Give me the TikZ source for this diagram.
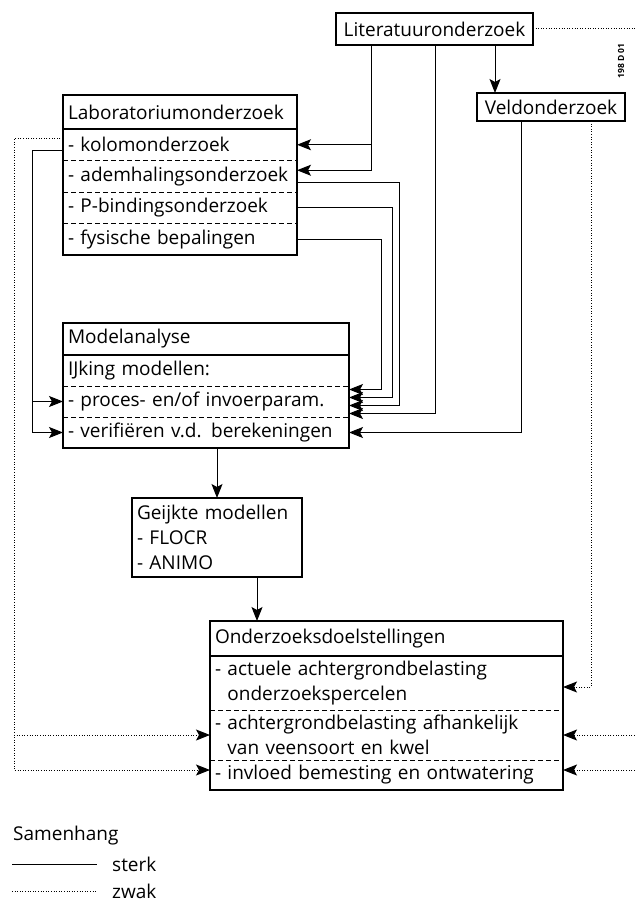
\documentclass[tikz,border=0pt]{standalone}
\usepackage{fontspec}
\setmainfont{Open Sans}
\usetikzlibrary{positioning,arrows.meta}

\begin{document}
\begin{tikzpicture}[x=1pt,y=-1pt,font=\fontsize{19}{25}\selectfont,
  >={Stealth[length=14pt,width=11pt,inset=3pt]},
  sterk/.style={line width=1pt},
  zwak/.style={line width=1pt,dash pattern=on 1pt off 1.6pt},
  sep/.style={line width=0.9pt,dash pattern=on 5pt off 3pt},
  rand/.style={line width=1.2pt},
  cell/.style={inner xsep=5pt,inner ysep=0pt,outer sep=0pt,align=left,anchor=north west},
  labcell/.style={cell,text width=224pt,minimum height=31.5pt},
  modcell/.style={cell,text width=276pt,minimum height=31pt},
  doelcell/.style={cell,text width=343pt}]
\useasboundingbox (0,0) rectangle (635,909);
% bronnen
\node[draw,rand,outer sep=0pt,minimum width=197pt,minimum height=32pt,anchor=north west] (lit) at (336,13) {Literatuuronderzoek};
\node[draw,rand,outer sep=0pt,minimum width=148pt,minimum height=28pt,anchor=north west] (veld) at (477,93) {Veldonderzoek};
\node[rotate=90,font=\fontsize{8.5}{10}\selectfont\bfseries] (code) at (621,61) {198 D 01};
% laboratoriumonderzoek
\node[labcell,minimum height=34pt] (lab) at (63,95) {Laboratoriumonderzoek};
\foreach \a/\b/\t in {lab/kolom/{- kolomonderzoek},kolom/adem/{- ademhalingsonderzoek},
  adem/pbind/{- P-bindingsonderzoek},pbind/fys/{- fysische bepalingen}}
  \node[labcell,below=0pt of \a] (\b) {\t};
\draw[rand] (lab.north west) rectangle (fys.south east);
\draw[rand] (lab.south west) -- (lab.south east);
\foreach \r in {kolom,adem,pbind}
  \draw[sep] (\r.south west) -- (\r.south east);
% modelanalyse
\node[modcell,minimum height=32pt] (model) at (63,323) {Modelanalyse};
\foreach \a/\b/\t in {model/ijking/{IJking modellen:},ijking/proces/{- proces- en/of invoerparam.},
  proces/verif/{- verifiëren v.d. berekeningen}}
  \node[modcell,below=0pt of \a] (\b) {\t};
\draw[rand] (model.north west) rectangle (verif.south east);
\draw[rand] (model.south west) -- (model.south east);
\foreach \r in {ijking,proces}
  \draw[sep] (\r.south west) -- (\r.south east);
% geijkte modellen
\node[draw,rand,cell,text width=160pt,minimum height=79pt] (geijkt) at (132,498) {Geijkte modellen\\- FLOCR\\- ANIMO};
% onderzoeksdoelstellingen
\node[doelcell,minimum height=35pt] (doel) at (210,621) {Onderzoeksdoelstellingen};
\node[doelcell,minimum height=54pt,below=0pt of doel] (doel1) {- actuele achtergrondbelasting\\\phantom{- }onderzoekspercelen};
\node[doelcell,minimum height=50pt,below=0pt of doel1] (doel2) {- achtergrondbelasting afhankelijk\\\phantom{- }van veensoort en kwel};
\node[doelcell,minimum height=30pt,below=0pt of doel2] (doel3) {- invloed bemesting en ontwatering};
\draw[rand] (doel.north west) rectangle (doel3.south east);
\draw[rand] (doel.south west) -- (doel.south east);
\foreach \r in {doel1,doel2}
  \draw[sep] (\r.south west) -- (\r.south east);
% kanalen
\coordinate (k1) at (371,0);
\coordinate (k2) at (381,0);
\coordinate (k3) at (392,0);
\coordinate (k4) at (399,0);
\coordinate (k5) at (435,0);
\coordinate (kv) at (495,0);
\coordinate (k6) at (521,0);
\coordinate (k7) at (591,0);
\coordinate (kr) at (640,0);
\coordinate (kl1) at (14,0);
\coordinate (kl2) at (32,0);
\coordinate (kg) at (257,0);
% aansluitpunten
\coordinate (pa1) at ([yshift=12pt]proces.east);
\coordinate (pa2) at ([yshift=4pt]proces.east);
\coordinate (pa3) at ([yshift=-4pt]proces.east);
\coordinate (pa4) at ([yshift=-12pt]proces.east);
\coordinate (ain) at ([yshift=6pt]adem.east);
\coordinate (aout) at ([yshift=-6pt]adem.east);
\coordinate (kz) at ([yshift=6pt]kolom.west);
\coordinate (ks) at ([yshift=-6pt]kolom.west);
\coordinate (d1) at ([yshift=-4pt]doel1.east);
\coordinate (d3r) at ([yshift=5pt]doel3.east);
\coordinate (d3l) at ([yshift=5pt]doel3.west);
% sterke samenhang
\draw[sterk,->] (lit.south -| k1) |- (ain);
\draw[sterk,->] (k1 |- kolom.east) -- (kolom.east);
\draw[sterk,->] (lit.south -| kv) -- (veld.north -| kv);
\draw[sterk,->] (fys.east) -| (k2 |- pa1) -- (pa1);
\draw[sterk,->] (pbind.east) -| (k3 |- pa2) -- (pa2);
\draw[sterk,->] (aout) -| (k4 |- pa3) -- (pa3);
\draw[sterk,->] (lit.south -| k5) |- (pa4);
\draw[sterk,->] (veld.south -| k6) |- (verif.east);
\draw[sterk,->] (ks) -| (kl2 |- verif.west) -- (verif.west);
\draw[sterk,->] (kl2 |- proces.west) -- (proces.west);
\draw[sterk,->] (verif.south -| geijkt) -- (geijkt.north);
\draw[sterk,->] (geijkt.south -| kg) -- (doel.north -| kg);
% zwakke samenhang
\draw[zwak] (lit.east) -| (kr |- d3r);
\draw[zwak,->] (kr |- doel2.east) -- (doel2.east);
\draw[zwak,->] (kr |- d3r) -- (d3r);
\draw[zwak,->] (veld.south -| k7) |- (d1);
\draw[zwak,->] (kz) -| (kl1 |- d3l) -- (d3l);
\draw[zwak,->] (kl1 |- doel2.west) -- (doel2.west);
% legenda
\node[anchor=west,inner sep=0pt] (samen) at (13,836) {Samenhang};
\coordinate (ls1) at (12,864);
\coordinate (ls2) at (97,864);
\coordinate (lz1) at (12,891);
\coordinate (lz2) at (97,891);
\draw[sterk] (ls1) -- (ls2);
\draw[zwak] (lz1) -- (lz2);
\node[anchor=west,inner sep=0pt] (lsterk) at (112,864) {sterk};
\node[anchor=west,inner sep=0pt] (lzwak) at (112,891) {zwak};
\end{tikzpicture}
\end{document}
